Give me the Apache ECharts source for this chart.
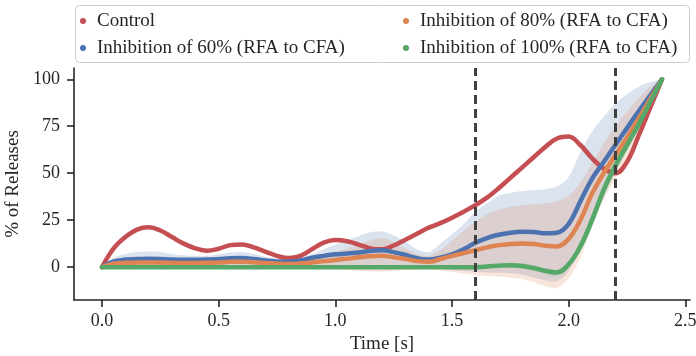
<!DOCTYPE html>
<html>
<head>
<meta charset="utf-8">
<script src="https://cdn.jsdelivr.net/npm/echarts@6/dist/echarts.min.js"></script>
<style>
  html, body { margin: 0; padding: 0; background: #fff; }
  #chart { width: 696px; height: 356px; }
</style>
</head>
<body>
<div id="chart"></div>
<script>
// time samples [s]
const times = [0, 0.05, 0.1, 0.15, 0.2, 0.25, 0.3, 0.35, 0.4, 0.45, 0.5, 0.55, 0.6, 0.65, 0.7, 0.75, 0.8, 0.85, 0.9, 0.95,
  1, 1.05, 1.1, 1.15, 1.2, 1.25, 1.3, 1.35, 1.4, 1.45, 1.5, 1.55, 1.6, 1.65, 1.7, 1.75, 1.8, 1.85, 1.9, 1.95,
  2, 2.05, 2.1, 2.15, 2.2, 2.25, 2.3, 2.35, 2.4];

const control = [0, 10, 16, 20, 21.2, 19.5, 16, 12.5, 10, 8.7, 9.8, 11.7, 12.1, 10.5, 8.2, 6, 4.8, 6, 9.5, 13,
  14.4, 13.8, 12, 10, 9.5, 11.5, 14.6, 17.8, 21, 23.4, 26.3, 29.5, 33, 37, 42, 47.5, 53, 58.5, 64, 68.5,
  69.5, 65, 58, 52.5, 50, 56, 70, 85, 100];

const inhib60 = [0, 3, 4, 4.3, 4.5, 4.3, 4, 3.9, 3.9, 4, 4.3, 4.7, 4.8, 4.3, 3.5, 3, 2.8, 3.5, 5, 6,
  6.8, 7.2, 7.8, 8.6, 9, 8, 6.5, 4.8, 4, 5, 6.8, 9.5, 13, 15.5, 17.2, 18.3, 18.8, 18.7, 18, 18.3,
  23, 35, 47, 56, 65, 74, 83, 91.5, 100];
const inhib60Upper = [0, 5, 7, 8, 8.3, 8, 7, 6.3, 6, 6, 6.8, 7.8, 8, 7, 5.5, 4.5, 4.2, 5, 7, 9.5,
  12, 14.5, 16.5, 18.5, 19, 17, 13.5, 9.5, 8, 12.5, 17.5, 23, 29.5, 34, 38, 39.5, 40.5, 41, 41.5, 43,
  48, 61, 72, 80, 87, 92, 96, 98.5, 100];
const inhib60Lower = [0, 0.8, 1, 1, 1, 1, 1, 1, 1, 1, 1, 1, 1, 1, 0.8, 0.6, 0.5, 0.5, 0.5, 0.3,
  0, -0.5, -1, -1, -1, -0.5, 0, 0, 0, -0.5, -1.5, -2, -2.5, -2.8, -3, -3.3, -4, -5.5, -7, -7.5,
  -2, 10, 27, 40, 51, 62, 74, 87, 100];

const inhib80 = [0, 1.8, 2.3, 2.4, 2.5, 2.4, 2.3, 2.2, 2.2, 2.3, 2.5, 2.8, 2.9, 2.6, 2.2, 1.8, 1.6, 1.9, 2.5, 3.2,
  3.8, 4.4, 5.2, 5.8, 6, 5.3, 4.4, 3.2, 2.8, 4.3, 6, 7.5, 9, 10.5, 11.7, 12.3, 12.6, 12.3, 11.4, 11,
  15, 25, 39, 50, 59.5, 69, 79, 89.5, 100];
const inhib80Upper = [0, 3, 4, 4.5, 4.6, 4.5, 4.3, 4.2, 4.2, 4.3, 4.5, 4.8, 5, 4.5, 3.5, 3, 3, 3.5, 4.5, 6,
  8, 10, 12, 14.5, 15.4, 13.5, 10, 7, 6, 9, 14, 19.5, 24, 28, 30.5, 32, 33, 33.5, 34, 35,
  38, 45, 55, 66, 75, 83, 90, 96, 100];
const inhib80Lower = [0, -0.3, -0.4, -0.4, -0.4, -0.4, -0.4, -0.4, -0.4, -0.4, -0.4, -0.4, -0.4, -0.4, -0.4, -0.4, -0.4, -0.5, -0.6, -0.8,
  -1, -1.5, -2, -2.3, -2.5, -2, -1.5, -1.2, -1, -1.8, -2.5, -3.5, -4.3, -4.7, -5, -5.6, -6.3, -8, -10, -11,
  -6, 5, 22, 36, 47, 58, 71, 85, 100];

const inhib100 = [0, 0, 0, 0, 0, 0, 0, 0, 0, 0, 0, 0, 0, 0, 0, 0, 0, 0, 0, 0,
  0, 0, 0, 0, 0, 0, 0, 0, 0, 0, 0, 0, 0, 0.3, 0.8, 1, 0.6, -0.5, -2, -2.8,
  1.5, 11, 25, 41, 54, 65, 76, 88, 100];
const inhib100Upper = [0, 0.6, 0.8, 0.8, 0.8, 0.8, 0.8, 0.8, 0.8, 0.8, 0.8, 0.8, 0.8, 0.8, 0.8, 0.8, 0.8, 0.8, 0.8, 0.8,
  0.8, 0.8, 0.8, 0.8, 0.8, 0.8, 0.8, 0.8, 0.8, 0.8, 0.8, 0.8, 0.8, 1.3, 2, 2.3, 2, 1, -0.5, -1.3,
  3.5, 14, 29, 45, 58, 68, 79, 90, 100];
const inhib100Lower = [0, -0.6, -0.8, -0.8, -0.8, -0.8, -0.8, -0.8, -0.8, -0.8, -0.8, -0.8, -0.8, -0.8, -0.8, -0.8, -0.8, -0.8, -0.8, -0.8,
  -0.8, -0.8, -0.8, -0.8, -0.8, -0.8, -0.8, -0.8, -0.8, -0.8, -0.8, -0.8, -0.8, -0.7, -0.3, -0.2, -0.8, -2, -3.5, -4.5,
  0, 8, 21, 37, 50, 62, 73, 86, 100];

const phaseMarks = [1.6, 2.2];
const xTicks = [0, 0.5, 1, 1.5, 2, 2.5];
const yTicks = [0, 25, 50, 75, 100];

const names = ['Control', 'Inhibition of 60% (RFA to CFA)', 'Inhibition of 80% (RFA to CFA)', 'Inhibition of 100% (RFA to CFA)'];
const colors = ['#C44E52', '#4C72B0', '#DD8452', '#55A868'];

const FONT = 'Liberation Serif';
const INK = '#262626';

const pairs = (vals) => times.map((t, i) => [t, vals[i]]);

// shaded spread: one polygon, upper edge forward then lower edge back
function band(lower, upper, color) {
  return {
    type: 'custom', silent: true, z: 1,
    data: [0],
    renderItem: (params, api) => {
      const pts = [];
      times.forEach((t, i) => pts.push(api.coord([t, upper[i]])));
      for (let i = times.length - 1; i >= 0; i--) pts.push(api.coord([times[i], lower[i]]));
      return {
        type: 'polygon',
        shape: { points: pts, smooth: 0.35 },
        style: { fill: color, opacity: 0.2 }
      };
    }
  };
}

function mainLine(idx, vals) {
  return {
    type: 'line', name: names[idx], data: pairs(vals), smooth: 0.4, symbol: 'none', z: 3,
    color: colors[idx],
    lineStyle: { color: colors[idx], width: 4.5, cap: 'round', join: 'round' }
  };
}

const chart = echarts.init(document.getElementById('chart'), null, { renderer: 'canvas' });

const legendCommon = {
  orient: 'vertical', padding: 0, itemGap: 7, icon: 'circle',
  itemWidth: 18, itemHeight: 6,
  textStyle: { fontFamily: FONT, fontSize: 19, color: INK, lineHeight: 20 }
};

chart.setOption({
  animation: false,
  backgroundColor: '#ffffff',
  grid: { left: 74, right: 6, top: 68, bottom: 56, outerBoundsMode: 'none' },
  graphic: [{
    type: 'rect', z: 0,
    shape: { x: 75.5, y: 5.5, width: 614, height: 57, r: 4 },
    style: { fill: '#ffffff', stroke: '#cccccc', lineWidth: 1 }
  }],
  legend: [
    Object.assign({ left: 80, top: 11, data: [names[0], names[1]] }, legendCommon),
    Object.assign({ left: 403, top: 11, data: [names[2], names[3]] }, legendCommon)
  ],
  xAxis: {
    type: 'value', min: -0.12, max: 2.52,
    name: 'Time [s]', nameLocation: 'middle', nameGap: 35,
    nameTextStyle: { fontFamily: FONT, fontSize: 19, color: INK },
    axisLine: { show: true, onZero: false, lineStyle: { color: INK, width: 1.6 } },
    axisTick: { show: true, length: 7, lineStyle: { color: INK, width: 1.6 }, customValues: xTicks },
    axisLabel: {
      fontFamily: FONT, fontSize: 18, color: INK, margin: 12, customValues: xTicks,
      formatter: (v) => v.toFixed(1)
    },
    splitLine: { show: false }
  },
  yAxis: {
    type: 'value', min: -17.5, max: 106,
    name: '% of Releases', nameLocation: 'middle', nameGap: 48,
    nameTextStyle: { fontFamily: FONT, fontSize: 19, color: INK },
    axisLine: { show: true, onZero: false, lineStyle: { color: INK, width: 1.6 } },
    axisTick: { show: true, length: 7, lineStyle: { color: INK, width: 1.6 }, customValues: yTicks },
    axisLabel: { fontFamily: FONT, fontSize: 18, color: INK, margin: 14, customValues: yTicks },
    splitLine: { show: false }
  },
  series: [
    band(inhib60Lower, inhib60Upper, colors[1]),
    band(inhib80Lower, inhib80Upper, colors[2]),
    band(inhib100Lower, inhib100Upper, colors[3]),
    mainLine(0, control),
    mainLine(1, inhib60),
    mainLine(2, inhib80),
    mainLine(3, inhib100),
    {
      type: 'line', name: 'phases', data: [], z: 5, silent: true,
      markLine: {
        silent: true, symbol: ['none', 'none'], label: { show: false },
        lineStyle: { color: '#404040', width: 3, type: [9, 5] },
        data: phaseMarks.map((x) => ({ xAxis: x }))
      }
    }
  ]
});
</script>
</body>
</html>
